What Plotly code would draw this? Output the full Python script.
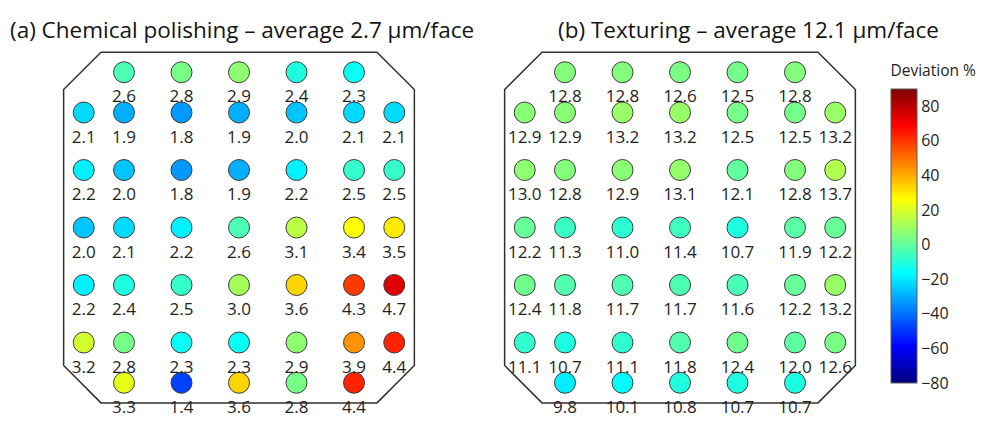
import plotly.graph_objects as go

# Thickness removed per measurement point (um/face), rows from top to bottom
avg_a = 2.7
vals_a = [
    [2.6, 2.8, 2.9, 2.4, 2.3],
    [2.1, 1.9, 1.8, 1.9, 2.0, 2.1, 2.1],
    [2.2, 2.0, 1.8, 1.9, 2.2, 2.5, 2.5],
    [2.0, 2.1, 2.2, 2.6, 3.1, 3.4, 3.5],
    [2.2, 2.4, 2.5, 3.0, 3.6, 4.3, 4.7],
    [3.2, 2.8, 2.3, 2.3, 2.9, 3.9, 4.4],
    [3.3, 1.4, 3.6, 2.8, 4.4],
]
avg_b = 12.1
vals_b = [
    [12.8, 12.8, 12.6, 12.5, 12.8],
    [12.9, 12.9, 13.2, 13.2, 12.5, 12.5, 13.2],
    [13.0, 12.8, 12.9, 13.1, 12.1, 12.8, 13.7],
    [12.2, 11.3, 11.0, 11.4, 10.7, 11.9, 12.2],
    [12.4, 11.8, 11.7, 11.7, 11.6, 12.2, 13.2],
    [11.1, 10.7, 11.1, 11.8, 12.4, 12.0, 12.6],
    [9.8, 10.1, 10.8, 10.7, 10.7],
]
title_a = "(a) Chemical polishing \u2013 average 2.7 \u03bcm/face"
title_b = "(b) Texturing \u2013 average 12.1 \u03bcm/face"
cbar_ticks = [-80, -60, -40, -20, 0, 20, 40, 60, 80]
dev_min, dev_max = -80, 90

# MATLAB style jet
jet = [[0, 'rgb(0,0,128)'], [0.125, 'rgb(0,0,255)'], [0.375, 'rgb(0,255,255)'],
       [0.625, 'rgb(255,255,0)'], [0.875, 'rgb(255,0,0)'], [1, 'rgb(128,0,0)']]

# page body has an 8px margin, so the figure is a bit smaller and everything shifted
OFF = 8
W, H = 987 - OFF, 427 - OFF
grid = [-2.7, -2, -1, 0, 1, 2, 2.7]
scale = 57.5
y_center = 227.5 - OFF
y_hi = y_center / scale
y_lo = -(H - y_center) / scale
half_x = 3.6


def px(x):
    return (x - OFF) / W


def py(y):
    return 1 - (y - OFF) / H


def points(vals, avg):
    xs, ys, dev, txt = [], [], [], []
    for r, row in enumerate(vals):
        cols = grid[1:6] if len(row) == 5 else grid
        for c, v in zip(cols, row):
            xs.append(c)
            ys.append(-grid[r])
            dev.append((v - avg) / avg * 100)
            txt.append(f"{v:.1f}")
    return xs, ys, dev, txt


def domain(center):
    return [px(center - half_x * scale), px(center + half_x * scale)]


fig = go.Figure()

for i, (vals, avg, xa) in enumerate([(vals_a, avg_a, 'x'), (vals_b, avg_b, 'x2')]):
    xs, ys, dev, txt = points(vals, avg)
    fig.add_trace(go.Scatter(
        x=xs, y=ys, xaxis=xa, yaxis='y', mode='markers', showlegend=False,
        marker=dict(size=21, color=dev, colorscale=jet, cmin=dev_min, cmax=dev_max,
                    line=dict(color='rgb(60,60,60)', width=1),
                    showscale=(i == 1),
                    colorbar=dict(
                        title=dict(text="Deviation %", side='top',
                                   font=dict(size=15.5, color='rgb(30,30,30)')),
                        x=px(891), xanchor='left', thickness=26, thicknessmode='pixels',
                        len=(383 - 62) / H, lenmode='fraction', y=py(62), yanchor='top',
                        tickvals=cbar_ticks, ticks='', xpad=0, ypad=0,
                        tickfont=dict(size=16, color='rgb(30,30,30)'),
                        outlinewidth=1, outlinecolor='rgb(90,90,90)'))))
    fig.add_trace(go.Scatter(
        x=xs, y=[y - 0.45 for y in ys], xaxis=xa, yaxis='y', mode='text', text=txt,
        showlegend=False, textposition='middle center',
        textfont=dict(size=17, color='rgb(30,30,30)', family='Open Sans')))

# Wafer outlines (square with cut corners)
s, c = 3.05, 2.4
octagon = f"M {-s},{c} L {-c},{s} L {c},{s} L {s},{c} L {s},{-c} L {c},{-s} L {-c},{-s} L {-s},{-c} Z"
for xa in ['x', 'x2']:
    fig.add_shape(type='path', path=octagon, xref=xa, yref='y', layer='below',
                  line=dict(color='rgb(50,50,50)', width=1.5), fillcolor='white')

for text, x in [(title_a, 8), (title_b, 556)]:
    fig.add_annotation(text=text, x=px(x), y=py(29), xref='paper', yref='paper',
                       xanchor='left', yanchor='middle', showarrow=False,
                       font=dict(size=22.5, color='rgb(20,20,20)'))

ax = dict(visible=False, range=[-half_x, half_x])
fig.update_layout(
    width=W, height=H,
    margin=dict(l=0, r=0, t=0, b=0),
    plot_bgcolor='white', paper_bgcolor='white',
    font=dict(family='Open Sans'),
    xaxis=dict(ax, domain=domain(239), anchor='y'),
    xaxis2=dict(ax, domain=domain(680), anchor='y'),
    yaxis=dict(visible=False, range=[y_lo, y_hi], domain=[0, 1]),
)

fig.write_html("out.html")
